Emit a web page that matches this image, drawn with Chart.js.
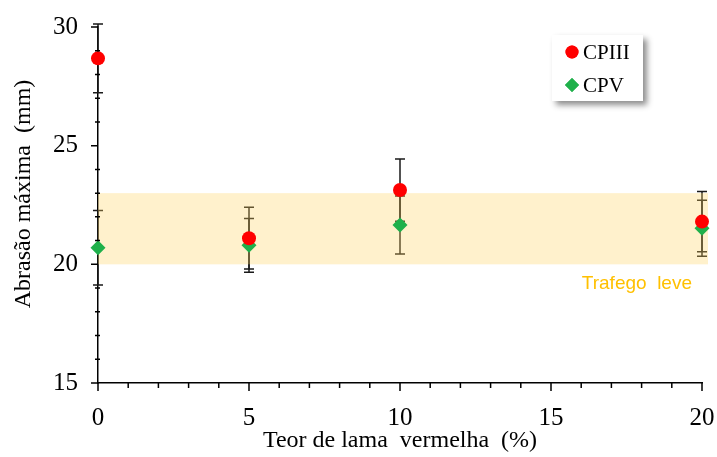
<!DOCTYPE html>
<html>
<head>
<meta charset="utf-8">
<script src="https://cdn.jsdelivr.net/npm/chart.js@4/dist/chart.umd.min.js"></script>
<style>
  html, body { margin: 0; padding: 0; background: #fff; }
</style>
</head>
<body>
<canvas id="abrasion-chart" width="717" height="457"></canvas>
<script>
  // Data
  const teores = [0, 5, 10, 20];
  const cpiiiValues = [28.68, 21.1, 23.13, 21.8];
  const cpiiiErrors = [1.45, 1.3, 1.31, 1.27];
  const cpvValues = [20.7, 20.8, 21.66, 21.52];
  const cpvErrors = [1.57, 1.13, 1.22, 1.18];
  const xTickLabels = [0, 5, 10, 15, 20];
  const yTickLabels = [15, 20, 25, 30];
  const trafficBand = [20, 23];
  const bandLabel = "Trafego  leve";
  const yTitle = "Abrasão máxima  (mm)";

  const serif = "'Liberation Serif', 'Times New Roman', serif";

  // keep the plot area where the original has it (ignore label overhang)
  const noLabelPadding = (s) => {
    s.paddingTop = 0;
    s.paddingBottom = 0;
    s.paddingLeft = 0;
    s.paddingRight = 0;
  };

  // Error bars + the "trafego leve" band, drawn under the markers
  const errorBarsAndBand = {
    id: "errorBarsAndBand",
    beforeDatasetsDraw(chart) {
      const { ctx, chartArea, scales: { x, y } } = chart;
      ctx.save();
      ctx.strokeStyle = "#1a1a1a";
      ctx.lineWidth = 1.5;
      chart.data.datasets.forEach((ds) => {
        ds.data.forEach((pt, i) => {
          const err = ds.errorBars[i];
          const px = x.getPixelForValue(pt.x);
          const top = y.getPixelForValue(pt.y + err);
          const bot = y.getPixelForValue(pt.y - err);
          ctx.beginPath();
          ctx.moveTo(px, top);
          ctx.lineTo(px, bot);
          ctx.moveTo(px - 5, top);
          ctx.lineTo(px + 5, top);
          ctx.moveTo(px - 5, bot);
          ctx.lineTo(px + 5, bot);
          ctx.stroke();
        });
      });

      // band
      const bTop = y.getPixelForValue(trafficBand[1]);
      const bBot = y.getPixelForValue(trafficBand[0]);
      ctx.fillStyle = "rgba(255, 212, 95, 0.32)";
      ctx.fillRect(chartArea.left, bTop, chartArea.right + 6 - chartArea.left, bBot - bTop);
      ctx.fillStyle = "#FFC000";
      ctx.font = "19px 'Liberation Sans', Arial, sans-serif";
      ctx.textAlign = "right";
      ctx.textBaseline = "middle";
      ctx.fillText(bandLabel, chartArea.right - 10, bBot + 19);
      ctx.restore();
    },
  };

  // Major / minor tick marks like the Excel original, plus the y title
  const tickMarks = {
    id: "tickMarks",
    afterDraw(chart) {
      const { ctx, chartArea, scales: { x, y } } = chart;
      ctx.save();
      ctx.strokeStyle = "#000";
      ctx.lineWidth = 1.5;
      ctx.beginPath();
      for (let v = x.min; v <= x.max; v++) {
        const px = x.getPixelForValue(v);
        ctx.moveTo(px, chartArea.bottom);
        ctx.lineTo(px, chartArea.bottom + (v % 5 === 0 ? 8 : 5));
      }
      for (let v = y.min; v <= y.max; v++) {
        const py = y.getPixelForValue(v);
        if (v % 5 === 0) {
          ctx.moveTo(chartArea.left - 7, py);
          ctx.lineTo(chartArea.left, py);
        } else {
          ctx.moveTo(chartArea.left - 3, py);
          ctx.lineTo(chartArea.left + 2, py);
        }
      }
      ctx.stroke();

      // y title sits a little above the middle in the original
      ctx.translate(24, (chartArea.top + chartArea.bottom) / 2 - 11);
      ctx.rotate(-Math.PI / 2);
      ctx.font = "24px " + serif;
      ctx.fillStyle = "#000";
      ctx.textAlign = "center";
      ctx.textBaseline = "middle";
      ctx.fillText(yTitle, 0, 0);
      ctx.restore();
    },
  };

  // Legend box with drop shadow, inside the plot
  const boxLegend = {
    id: "boxLegend",
    afterDraw(chart) {
      const { ctx } = chart;
      ctx.save();
      ctx.shadowColor = "rgba(0, 0, 0, 0.45)";
      ctx.shadowBlur = 6;
      ctx.shadowOffsetX = 4;
      ctx.shadowOffsetY = 4;
      ctx.fillStyle = "#fff";
      ctx.fillRect(552, 35, 91, 66);
      ctx.restore();

      ctx.save();
      ctx.font = "21px " + serif;
      ctx.textBaseline = "middle";
      chart.data.datasets.forEach((ds, i) => {
        const cy = 52 + i * 33;
        ctx.fillStyle = ds.pointBackgroundColor;
        Chart.helpers.drawPoint(ctx, { pointStyle: ds.pointStyle, radius: ds.pointStyle === "circle" ? 6.5 : 7, rotation: 0, borderWidth: 0 }, 572, cy);
        ctx.fill();
        ctx.fillStyle = "#000";
        ctx.fillText(ds.label, 583, cy + 1);
      });
      ctx.restore();
    },
  };

  const createChart = (ctx) => {
    return new Chart(ctx, {
      type: "scatter",
      data: {
        datasets: [
          {
            label: "CPIII",
            data: teores.map((t, i) => ({ x: t, y: cpiiiValues[i] })),
            errorBars: cpiiiErrors,
            pointStyle: "circle",
            pointRadius: 7,
            pointBackgroundColor: "#FF0000",
            pointBorderWidth: 0,
            clip: false,
          },
          {
            label: "CPV",
            data: teores.map((t, i) => ({ x: t, y: cpvValues[i] })),
            errorBars: cpvErrors,
            pointStyle: "rectRot",
            pointRadius: 7.5,
            pointBackgroundColor: "#1FB04B",
            pointBorderWidth: 0,
            clip: false,
          },
        ],
      },
      options: {
        responsive: false,
        animation: false,
        layout: { padding: { top: 27, right: 15, left: 0, bottom: 0 } },
        plugins: { legend: { display: false }, tooltip: { enabled: false } },
        scales: {
          x: {
            type: "linear",
            min: 0,
            max: 20,
            afterFit: (s) => { s.height = 74; noLabelPadding(s); },
            afterBuildTicks: (s) => { s.ticks = xTickLabels.map((v) => ({ value: v })); },
            grid: { display: false, drawTicks: false },
            border: { display: true, color: "#000", width: 1.5 },
            ticks: { color: "#000", font: { family: serif, size: 25 }, padding: 20, maxRotation: 0 },
            title: {
              display: true,
              text: "Teor de lama  vermelha  (%)",
              color: "#000",
              font: { family: serif, size: 24 },
              padding: { top: 0, bottom: 2 },
            },
          },
          y: {
            min: 15,
            max: 30,
            afterFit: (s) => { s.width = 98; noLabelPadding(s); },
            afterBuildTicks: (s) => { s.ticks = yTickLabels.map((v) => ({ value: v })); },
            grid: { display: false, drawTicks: false },
            border: { display: true, color: "#000", width: 1.5 },
            ticks: { color: "#000", font: { family: serif, size: 25 }, padding: 20 },
          },
        },
      },
      plugins: [errorBarsAndBand, tickMarks, boxLegend],
    });
  };

  createChart(document.getElementById("abrasion-chart").getContext("2d"));
</script>
</body>
</html>
